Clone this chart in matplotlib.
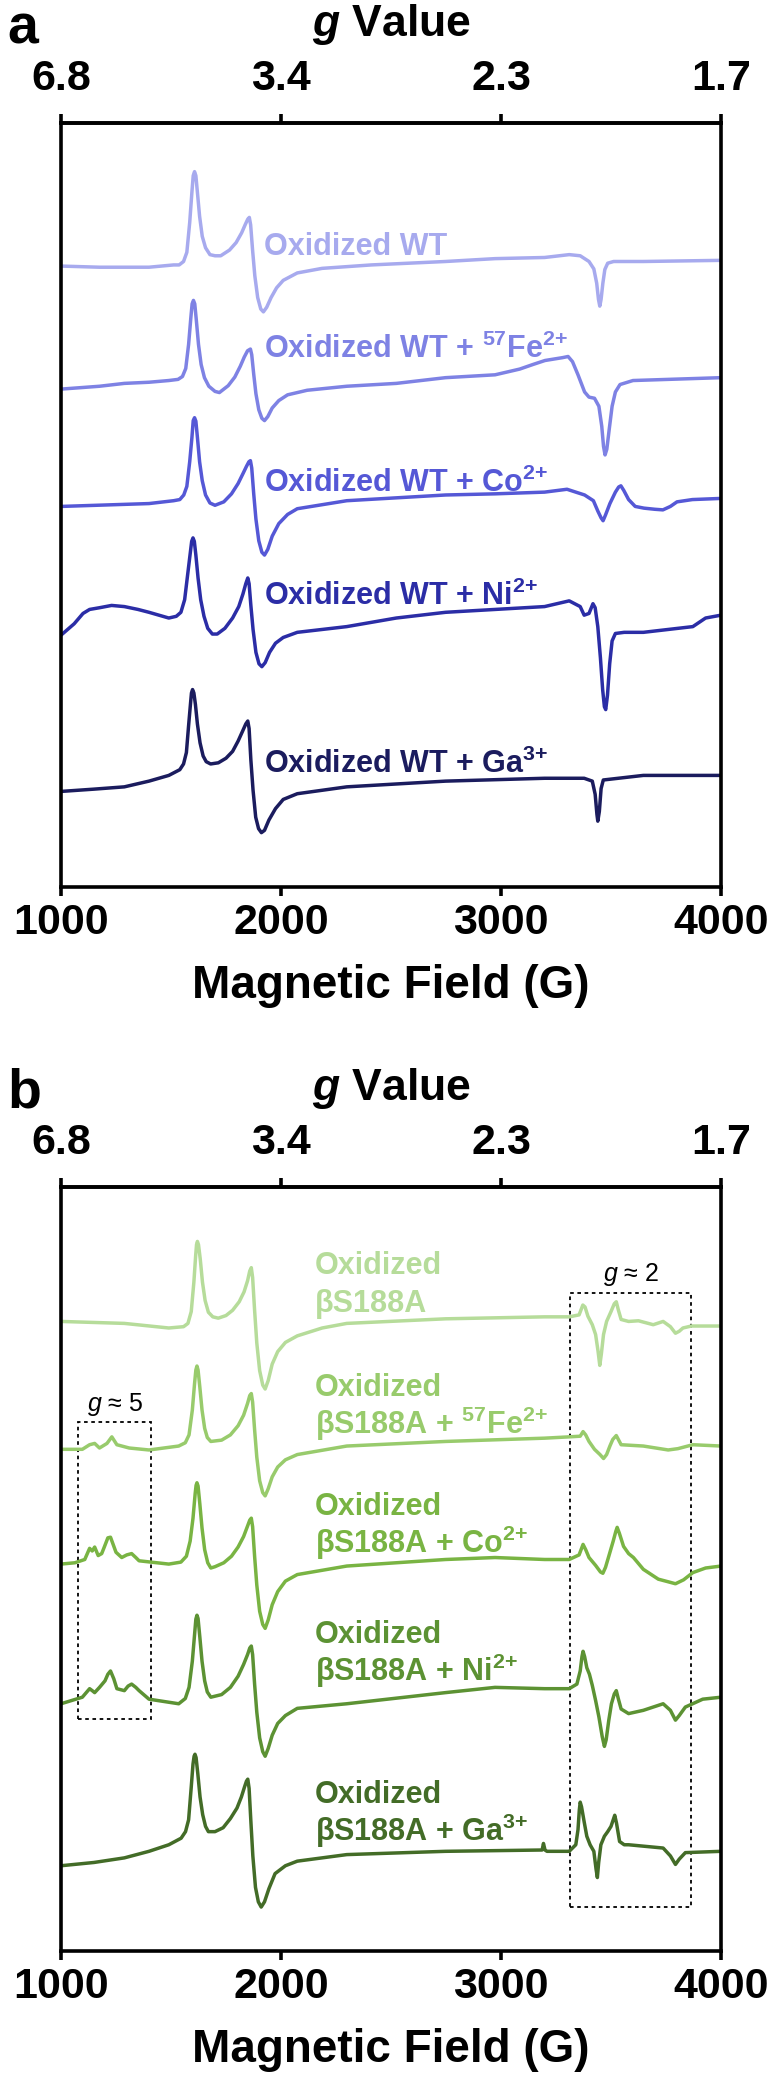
import numpy as np
import matplotlib.pyplot as plt
from matplotlib.patches import Rectangle

plt.rcParams['font.family'] = ['Liberation Sans', 'DejaVu Sans']
plt.rcParams['font.weight'] = 'bold'
plt.rcParams['mathtext.fontset'] = 'custom'
plt.rcParams['mathtext.default'] = 'rm'
plt.rcParams['mathtext.rm'] = 'Liberation Sans:bold'
plt.rcParams['mathtext.bf'] = 'Liberation Sans:bold'
plt.rcParams['mathtext.it'] = 'Liberation Sans:italic:bold'
plt.rcParams['mathtext.sf'] = 'Liberation Sans:italic:normal'

# axis ticks
field_ticks = [1000, 2000, 3000, 4000]
g_labels = ['6.8', '3.4', '2.3', '1.7']

# panel a: spectra, (field G, intensity a.u.)
a_wt = [(1000, 0), (1175, -2), (1400, -2), (1512, 2), (1537, 2), (1557, 8), (1572, 24),
        (1585, 76), (1595, 129), (1601, 158), (1607, 165), (1613, 158), (1620, 129), (1630, 87),
        (1642, 52), (1657, 32), (1677, 20), (1700, 18), (1726, 18), (1766, 28), (1796, 41),
        (1821, 58), (1838, 73), (1849, 82), (1856, 85), (1862, 72), (1871, 27), (1881, -17),
        (1894, -55), (1908, -75), (1920, -80), (1935, -72), (1955, -55), (1980, -38), (2010, -25),
        (2074, -12), (2187, -4), (2411, 2), (2748, 8), (2973, 13), (3198, 15), (3310, 20),
        (3360, 18), (3400, 8), (3422, -5), (3435, -30), (3443, -58), (3449, -70), (3455, -58),
        (3463, -30), (3472, -6), (3485, 5), (3512, 8), (3647, 8), (4000, 10)]
a_fe = [(1000, 0), (1175, 5), (1288, 10), (1400, 12), (1490, 15), (1532, 17), (1552, 22),
        (1567, 36), (1580, 78), (1590, 124), (1596, 149), (1602, 155), (1608, 149), (1615, 121),
        (1625, 78), (1637, 43), (1652, 20), (1672, 5), (1700, -4), (1720, -6), (1760, 6),
        (1790, 21), (1815, 40), (1833, 56), (1848, 67), (1861, 70), (1867, 60), (1876, 26),
        (1886, -8), (1899, -36), (1913, -51), (1925, -55), (1940, -48), (1960, -33), (1990, -20),
        (2030, -10), (2119, -2), (2299, 5), (2524, 10), (2748, 20), (2973, 25), (3085, 35),
        (3145, 43), (3200, 50), (3280, 55), (3305, 57), (3325, 48), (3350, 25), (3380, -5),
        (3400, -14), (3425, -16), (3445, -30), (3458, -65), (3466, -100), (3473, -115),
        (3481, -105), (3492, -70), (3505, -30), (3520, -5), (3541, 8), (3600, 15), (4000, 20)]
a_co = [(1000, 0), (1400, 5), (1512, 10), (1540, 12), (1558, 20), (1572, 35), (1585, 78),
        (1595, 120), (1601, 150), (1607, 155), (1613, 149), (1620, 121), (1630, 78), (1642, 45),
        (1657, 20), (1677, 6), (1700, 2), (1740, 8), (1775, 22), (1805, 40), (1828, 58),
        (1843, 70), (1854, 78), (1861, 80), (1867, 67), (1876, 22), (1886, -22), (1899, -60),
        (1913, -80), (1925, -85), (1940, -75), (1960, -52), (1990, -30), (2030, -14), (2074, -4),
        (2299, 10), (2748, 20), (2973, 22), (3198, 25), (3300, 30), (3380, 20), (3420, 10),
        (3440, -8), (3455, -20), (3464, -25), (3475, -15), (3495, 5), (3520, 25), (3535, 34),
        (3545, 36), (3558, 28), (3580, 12), (3610, 0), (3650, -3), (3700, -5), (3736, -6),
        (3770, 0), (3800, 8), (3870, 12), (4000, 14)]
a_ni = [(1000, 0), (1060, 20), (1100, 38), (1130, 45), (1175, 48), (1230, 52), (1288, 50),
        (1350, 45), (1400, 40), (1490, 30), (1524, 33), (1545, 40), (1562, 62), (1577, 110),
        (1588, 145), (1594, 164), (1600, 170), (1606, 164), (1613, 140), (1623, 100), (1635, 62),
        (1650, 33), (1667, 12), (1688, 2), (1710, 2), (1745, 12), (1780, 30), (1808, 50),
        (1827, 72), (1840, 90), (1849, 100), (1855, 90), (1863, 52), (1873, 10), (1886, -30),
        (1900, -50), (1913, -55), (1928, -48), (1948, -30), (1975, -14), (2010, -4), (2074, 5),
        (2299, 15), (2524, 30), (2748, 40), (2973, 45), (3198, 50), (3310, 60), (3360, 50),
        (3378, 35), (3400, 38), (3418, 55), (3428, 48), (3440, 15), (3452, -40), (3462, -95),
        (3470, -125), (3476, -130), (3484, -105), (3494, -50), (3505, -10), (3520, 3), (3560, 5),
        (3647, 5), (3872, 15), (3930, 30), (4000, 35)]
a_ga = [(1000, 0), (1150, 4), (1288, 8), (1400, 18), (1490, 28), (1540, 38), (1557, 48),
        (1570, 68), (1580, 115), (1589, 155), (1593, 172), (1598, 178), (1604, 172), (1611, 152),
        (1620, 118), (1632, 85), (1646, 62), (1660, 52), (1680, 48), (1715, 50), (1750, 58),
        (1780, 70), (1805, 88), (1825, 105), (1840, 118), (1849, 123), (1855, 110), (1863, 55),
        (1873, 2), (1885, -45), (1898, -65), (1911, -72), (1925, -68), (1945, -50), (1975, -30),
        (2010, -14), (2074, -4), (2299, 8), (2748, 18), (3198, 23), (3378, 23), (3415, 18),
        (3428, -5), (3436, -40), (3440, -52), (3447, -35), (3455, 5), (3465, 20), (3647, 28),
        (4000, 28)]
a_traces = [a_wt, a_fe, a_co, a_ni, a_ga]
a_offsets = [1085, 870, 665, 440, 167]
a_colors = ['#A7AAEE', '#7E82E4', '#5558D6', '#2B2DA6', '#1B1C5E']
a_names = ['Oxidized WT', 'Oxidized WT + $^{57}$Fe$^{2{+}}$', 'Oxidized WT + Co$^{2{+}}$',
           'Oxidized WT + Ni$^{2{+}}$', 'Oxidized WT + Ga$^{3{+}}$']
a_label_y = [1105, 925, 690, 493, 200]

# panel b
b_wt = [(1000, 0), (1288, -3), (1490, -10), (1557, -8), (1577, -3), (1592, 15), (1604, 60),
        (1612, 100), (1616, 117), (1620, 122), (1625, 117), (1633, 95), (1643, 60), (1655, 32),
        (1670, 14), (1690, 7), (1715, 5), (1750, 9), (1780, 17), (1810, 30), (1832, 45),
        (1848, 62), (1858, 77), (1865, 82), (1871, 67), (1880, 17), (1890, -33), (1903, -75),
        (1917, -97), (1928, -103), (1942, -90), (1960, -65), (1985, -46), (2020, -32),
        (2074, -22), (2187, -10), (2299, -3), (2748, 4), (3198, 7), (3310, 7), (3355, 10),
        (3372, 25), (3382, 22), (3395, 8), (3415, -5), (3430, -20), (3441, -45), (3449, -67),
        (3456, -50), (3466, -20), (3480, 0), (3500, 15), (3515, 27), (3524, 30), (3533, 18),
        (3546, 3), (3580, 0), (3625, 1), (3692, -5), (3737, 0), (3770, -8), (3793, -18),
        (3810, -15), (3827, -10), (3865, -7), (4000, -7)]
b_fe = [(1000, 0), (1097, 0), (1130, 7), (1153, 9), (1175, 2), (1209, 9), (1231, 19),
        (1254, 7), (1310, 2), (1400, -1), (1535, 5), (1565, 10), (1582, 22), (1597, 60),
        (1607, 100), (1613, 121), (1618, 127), (1623, 121), (1631, 95), (1641, 60), (1653, 32),
        (1665, 18), (1681, 12), (1730, 14), (1770, 22), (1805, 36), (1830, 52), (1848, 70),
        (1858, 82), (1865, 85), (1871, 72), (1880, 30), (1890, -12), (1903, -48), (1917, -66),
        (1928, -71), (1942, -60), (1960, -42), (1985, -27), (2020, -16), (2074, -8), (2299, 5),
        (2748, 12), (3198, 17), (3310, 19), (3360, 20), (3373, 27), (3385, 22), (3400, 12),
        (3425, 0), (3450, -8), (3466, -14), (3480, -8), (3495, 5), (3508, 15), (3524, 21),
        (3535, 14), (3546, 7), (3647, 5), (3760, -1), (3804, 1), (3872, 7), (4000, 5)]
b_co = [(1000, 0), (1063, 2), (1108, 7), (1130, 24), (1142, 20), (1153, 26), (1169, 13),
        (1185, 16), (1198, 27), (1213, 40), (1225, 41), (1237, 30), (1250, 18), (1276, 10),
        (1299, 14), (1321, 16), (1340, 10), (1355, 5), (1490, 0), (1545, 3), (1570, 12),
        (1587, 35), (1600, 70), (1610, 108), (1614, 120), (1618, 124), (1623, 119), (1631, 92),
        (1641, 55), (1653, 22), (1667, 2), (1681, -6), (1700, -4), (1740, 2), (1775, 12),
        (1805, 26), (1830, 42), (1848, 58), (1858, 67), (1865, 70), (1871, 57), (1880, 12),
        (1890, -32), (1903, -72), (1917, -92), (1928, -98), (1942, -85), (1960, -62),
        (1985, -42), (2020, -26), (2074, -16), (2299, -3), (2748, 7), (2973, 10), (3198, 7),
        (3310, 7), (3355, 14), (3373, 30), (3385, 22), (3400, 10), (3430, -2), (3452, -12),
        (3463, -14), (3475, -5), (3490, 12), (3510, 35), (3522, 50), (3528, 56), (3538, 47),
        (3557, 27), (3580, 16), (3602, 10), (3647, -8), (3715, -23), (3760, -27), (3793, -30),
        (3830, -24), (3872, -13), (3930, -6), (4000, -3)]
b_ni = [(1000, 0), (1097, 10), (1130, 23), (1142, 20), (1153, 17), (1175, 25), (1200, 35),
        (1213, 45), (1225, 50), (1240, 38), (1254, 23), (1288, 20), (1305, 27), (1321, 30),
        (1340, 25), (1355, 20), (1400, 7), (1535, 0), (1565, 8), (1582, 25), (1597, 65),
        (1607, 105), (1613, 129), (1618, 135), (1623, 130), (1631, 102), (1641, 65), (1653, 35),
        (1665, 18), (1681, 10), (1730, 14), (1770, 25), (1805, 42), (1830, 60), (1848, 75),
        (1858, 85), (1865, 88), (1871, 75), (1880, 30), (1890, -13), (1903, -52), (1917, -73),
        (1928, -80), (1942, -68), (1960, -48), (1985, -30), (2020, -18), (2074, -7), (2299, 0),
        (2748, 17), (2973, 25), (3198, 23), (3310, 23), (3345, 30), (3360, 50), (3368, 72),
        (3373, 80), (3380, 72), (3390, 55), (3402, 45), (3415, 28), (3430, 5), (3445, -20),
        (3460, -50), (3470, -65), (3478, -55), (3490, -25), (3502, 0), (3515, 15), (3524, 20),
        (3533, 8), (3546, -8), (3580, -15), (3647, -10), (3737, 0), (3770, -10), (3793, -25),
        (3810, -18), (3838, -5), (3917, 7), (4000, 10)]
b_ga = [(1000, 0), (1150, 5), (1288, 12), (1400, 22), (1490, 32), (1546, 42), (1566, 52),
        (1580, 70), (1592, 120), (1600, 155), (1605, 167), (1609, 170), (1614, 165), (1622, 140),
        (1632, 105), (1644, 78), (1657, 60), (1670, 52), (1700, 52), (1737, 58), (1770, 72),
        (1800, 88), (1820, 105), (1834, 120), (1843, 129), (1849, 132), (1855, 118), (1863, 68),
        (1872, 15), (1884, -33), (1897, -55), (1910, -63), (1925, -55), (1945, -35), (1973, -12),
        (2020, 0), (2074, 7), (2299, 17), (2748, 22), (3187, 24), (3193, 34), (3200, 24),
        (3209, 22), (3310, 22), (3340, 32), (3350, 55), (3356, 85), (3360, 97), (3366, 90),
        (3378, 67), (3390, 45), (3405, 32), (3422, 22), (3432, -5), (3438, -18), (3444, 5),
        (3454, 32), (3470, 45), (3485, 52), (3500, 60), (3512, 72), (3517, 77), (3525, 65),
        (3539, 37), (3560, 32), (3580, 32), (3737, 27), (3770, 15), (3793, 2), (3810, 10),
        (3838, 20), (4000, 22)]
b_traces = [b_wt, b_fe, b_co, b_ni, b_ga]
b_offsets = [960, 765, 590, 377, 130]
b_colors = ['#B6DC9A', '#98CB6C', '#79B443', '#5C9233', '#436C27']
b_line2 = ['βS188A', 'βS188A + $^{57}$Fe$^{2{+}}$', 'βS188A + Co$^{2{+}}$',
           'βS188A + Ni$^{2{+}}$', 'βS188A + Ga$^{3{+}}$']
b_label_y = [1032, 847, 665, 470, 225]

fig = plt.figure(figsize=(7.76, 20.85), dpi=100)
W, H = 776, 2085


def style_axes(ax, ymax):
    ax.set_xlim(1000, 4000)
    ax.set_ylim(0, ymax)
    ax.set_yticks([])
    for sp in ax.spines.values():
        sp.set_linewidth(2.6)
    ax.set_xticks(field_ticks)
    ax.tick_params(axis='x', direction='out', length=6.5, width=2.6, labelsize=31, pad=5)
    ax.set_xlabel('Magnetic Field (G)', fontsize=33, fontweight='bold', labelpad=15)
    sec = ax.secondary_xaxis('top', functions=(lambda b: 6800 / b, lambda g: 6800 / g))
    sec.set_xticks([6800 / f for f in field_ticks])
    sec.set_xticklabels(g_labels)
    sec.tick_params(axis='x', direction='out', length=6.5, width=2.6, labelsize=31, pad=11)
    sec.spines['top'].set_linewidth(2.6)
    sec.set_xlabel(r'$\mathit{g}$ Value', fontsize=32, fontweight='bold', labelpad=16)
    return ax


ax_a = fig.add_axes([61 / W, 1 - 887 / H, 660 / W, 764 / H])
style_axes(ax_a, 1335)
for tr, off, col, name, ly in zip(a_traces, a_offsets, a_colors, a_names, a_label_y):
    f, s = np.array(tr, dtype=float).T
    ax_a.plot(f, s + off, color=col, lw=2.5, solid_joinstyle='round')
    ax_a.text(1924, ly, name, color=col, fontsize=22, fontweight='bold', va='baseline')

ax_b = fig.add_axes([61 / W, 1 - 1951 / H, 660 / W, 764 / H])
style_axes(ax_b, 1165)
for tr, off, col, line2, ly in zip(b_traces, b_offsets, b_colors, b_line2, b_label_y):
    f, s = np.array(tr, dtype=float).T
    ax_b.plot(f, s + off, color=col, lw=2.5, solid_joinstyle='round')
    ax_b.text(2153, ly, 'Oxidized', color=col, fontsize=22, fontweight='bold', va='baseline')
    ax_b.text(2153, ly - 58, line2, color=col, fontsize=22, fontweight='bold', va='baseline')

# dotted boxes around g ~ 2 and g ~ 5 regions
ax_b.add_patch(Rectangle((3315, 67), 550, 937, fill=False, ls=(0, (2, 2)), lw=1.3, ec='black'))
ax_b.add_patch(Rectangle((1079, 354), 328, 453, fill=False, ls=(0, (2, 2)), lw=1.3, ec='black'))
ax_b.text(3591, 1022, r'$\mathsf{g}$ ≈ 2', fontsize=18, fontweight='normal', ha='center', va='baseline')
ax_b.text(1247, 824, r'$\mathsf{g}$ ≈ 5', fontsize=18, fontweight='normal', ha='center', va='baseline')

fig.text(7 / W, 1 - 43 / H, 'a', fontsize=40, fontweight='bold', va='baseline')
fig.text(7 / W, 1 - 1107 / H, 'b', fontsize=40, fontweight='bold', va='baseline')

fig.savefig('out.png', dpi=100)
